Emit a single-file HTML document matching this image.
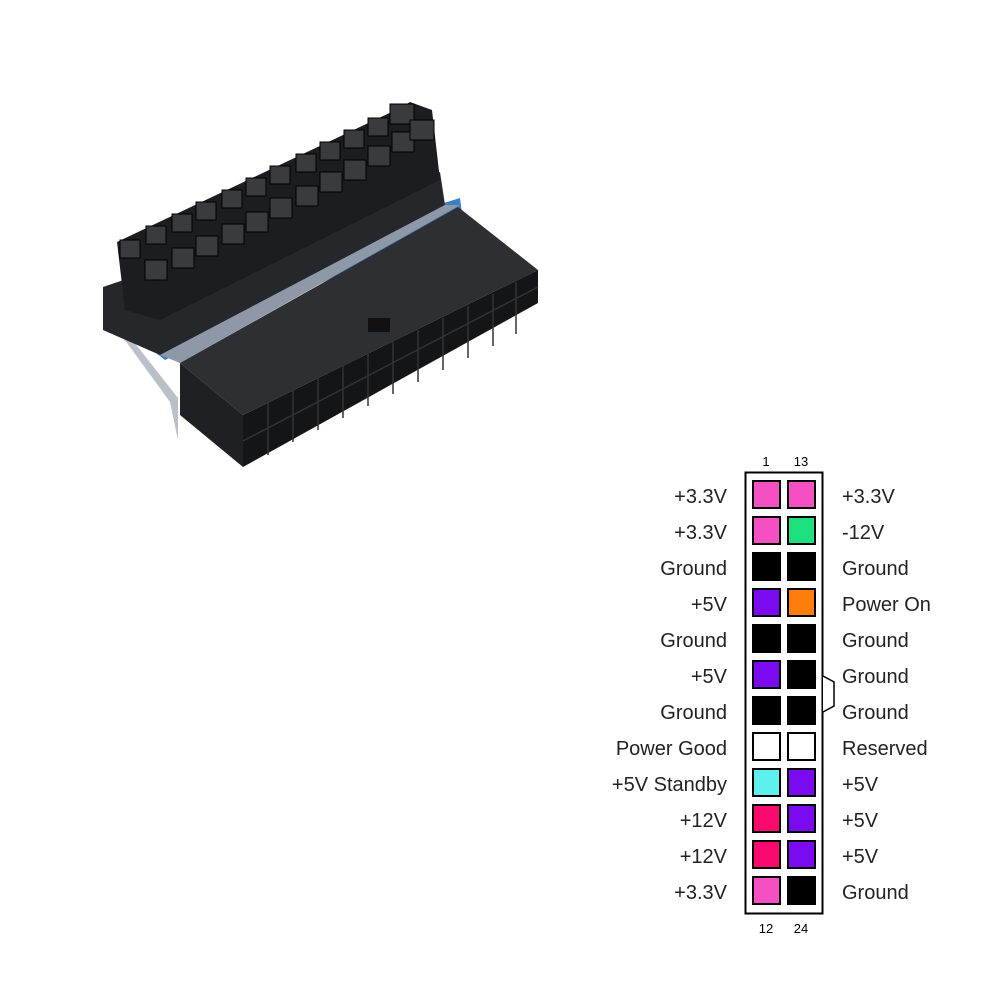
<!DOCTYPE html>
<html><head><meta charset="utf-8"><style>
html,body{margin:0;padding:0;background:#fff;width:1000px;height:1000px;overflow:hidden}
svg{display:block}
text{font-family:"Liberation Sans",sans-serif}
</style></head><body>
<svg width="1000" height="1000" viewBox="0 0 1000 1000">
<!-- connector photo approximation -->
<polygon points="103,310 112,314 178,398 178,440 170,402" fill="#b9c0c8"/>
<polygon points="103,308 460,198 462,214 165,360 112,318" fill="#3d7fc6"/>
<polygon points="103,287 440,172 445,205 160,355 103,330" fill="#26272a"/>
<polygon points="117,242 400,108 410,102 432,110 440,180 160,320 125,310" fill="#1c1d20"/>
<g fill="#3a3b3f" stroke="#000" stroke-width="1">
<rect x="120" y="240" width="20" height="18"/><rect x="146" y="226" width="20" height="18"/><rect x="172" y="214" width="20" height="18"/><rect x="196" y="202" width="20" height="18"/><rect x="222" y="190" width="20" height="18"/><rect x="246" y="178" width="20" height="18"/><rect x="270" y="166" width="20" height="18"/><rect x="296" y="154" width="20" height="18"/><rect x="320" y="142" width="20" height="18"/><rect x="344" y="130" width="20" height="18"/><rect x="368" y="118" width="20" height="18"/><rect x="390" y="104" width="24" height="20"/>
<rect x="145" y="260" width="22" height="20"/><rect x="172" y="248" width="22" height="20"/><rect x="196" y="236" width="22" height="20"/><rect x="222" y="224" width="22" height="20"/><rect x="246" y="212" width="22" height="20"/><rect x="270" y="198" width="22" height="20"/><rect x="296" y="186" width="22" height="20"/><rect x="320" y="172" width="22" height="20"/><rect x="344" y="160" width="22" height="20"/><rect x="368" y="146" width="22" height="20"/><rect x="392" y="132" width="22" height="20"/><rect x="410" y="120" width="24" height="20"/>
</g>
<polygon points="160,355 445,205 460,205 180,363" fill="#8e98a6"/>
<polygon points="180,363 458,207 538,270 243,415" fill="#2e2f33"/>
<polygon points="180,363 243,415 243,467 180,415" fill="#1f2023"/>
<polygon points="243,415 538,270 538,303 243,467" fill="#141517"/>
<g stroke="#333" stroke-width="1.5" fill="none">
<line x1="243" y1="441" x2="538" y2="287"/>
<line x1="268" y1="402" x2="268" y2="455"/><line x1="293" y1="390" x2="293" y2="442"/><line x1="318" y1="378" x2="318" y2="430"/><line x1="343" y1="366" x2="343" y2="418"/><line x1="368" y1="354" x2="368" y2="406"/><line x1="393" y1="342" x2="393" y2="394"/><line x1="418" y1="330" x2="418" y2="382"/><line x1="443" y1="318" x2="443" y2="370"/><line x1="468" y1="306" x2="468" y2="358"/><line x1="493" y1="294" x2="493" y2="346"/><line x1="516" y1="282" x2="516" y2="334"/>
</g>
<rect x="368" y="318" width="22" height="14" fill="#111"/>

<!-- pinout -->
<rect x="745.5" y="472.5" width="77" height="441" fill="#fff" stroke="#000" stroke-width="2"/>
<path d="M823 676 L834 682 L834 706 L823 712" fill="#fff" stroke="#000" stroke-width="1.5"/>
<text x="766" y="466" font-size="13" text-anchor="middle">1</text>
<text x="801" y="466" font-size="13" text-anchor="middle">13</text>
<text x="766" y="933" font-size="13" text-anchor="middle">12</text>
<text x="801" y="933" font-size="13" text-anchor="middle">24</text>
<g stroke="#000" stroke-width="2">
<rect x="753" y="481" width="27" height="27" fill="#f54fc4"/><rect x="788" y="481" width="27" height="27" fill="#f54fc4"/>
<rect x="753" y="517" width="27" height="27" fill="#f54fc4"/><rect x="788" y="517" width="27" height="27" fill="#1de07f"/>
<rect x="753" y="553" width="27" height="27" fill="#000"/><rect x="788" y="553" width="27" height="27" fill="#000"/>
<rect x="753" y="589" width="27" height="27" fill="#7a0af0"/><rect x="788" y="589" width="27" height="27" fill="#ff7d0a"/>
<rect x="753" y="625" width="27" height="27" fill="#000"/><rect x="788" y="625" width="27" height="27" fill="#000"/>
<rect x="753" y="661" width="27" height="27" fill="#7a0af0"/><rect x="788" y="661" width="27" height="27" fill="#000"/>
<rect x="753" y="697" width="27" height="27" fill="#000"/><rect x="788" y="697" width="27" height="27" fill="#000"/>
<rect x="753" y="733" width="27" height="27" fill="#fff"/><rect x="788" y="733" width="27" height="27" fill="#fff"/>
<rect x="753" y="769" width="27" height="27" fill="#5ef0ee"/><rect x="788" y="769" width="27" height="27" fill="#7a0af0"/>
<rect x="753" y="805" width="27" height="27" fill="#fa0a6e"/><rect x="788" y="805" width="27" height="27" fill="#7a0af0"/>
<rect x="753" y="841" width="27" height="27" fill="#fa0a6e"/><rect x="788" y="841" width="27" height="27" fill="#7a0af0"/>
<rect x="753" y="877" width="27" height="27" fill="#f54fc4"/><rect x="788" y="877" width="27" height="27" fill="#000"/>
</g>
<g font-size="20" fill="#222" text-anchor="end">
<text x="727" y="503">+3.3V</text><text x="727" y="539">+3.3V</text><text x="727" y="575">Ground</text><text x="727" y="611">+5V</text><text x="727" y="647">Ground</text><text x="727" y="683">+5V</text><text x="727" y="719">Ground</text><text x="727" y="755">Power Good</text><text x="727" y="791">+5V Standby</text><text x="727" y="827">+12V</text><text x="727" y="863">+12V</text><text x="727" y="899">+3.3V</text>
</g>
<g font-size="20" fill="#222">
<text x="842" y="503">+3.3V</text><text x="842" y="539">-12V</text><text x="842" y="575">Ground</text><text x="842" y="611">Power On</text><text x="842" y="647">Ground</text><text x="842" y="683">Ground</text><text x="842" y="719">Ground</text><text x="842" y="755">Reserved</text><text x="842" y="791">+5V</text><text x="842" y="827">+5V</text><text x="842" y="863">+5V</text><text x="842" y="899">Ground</text>
</g>
</svg>
</body></html>
